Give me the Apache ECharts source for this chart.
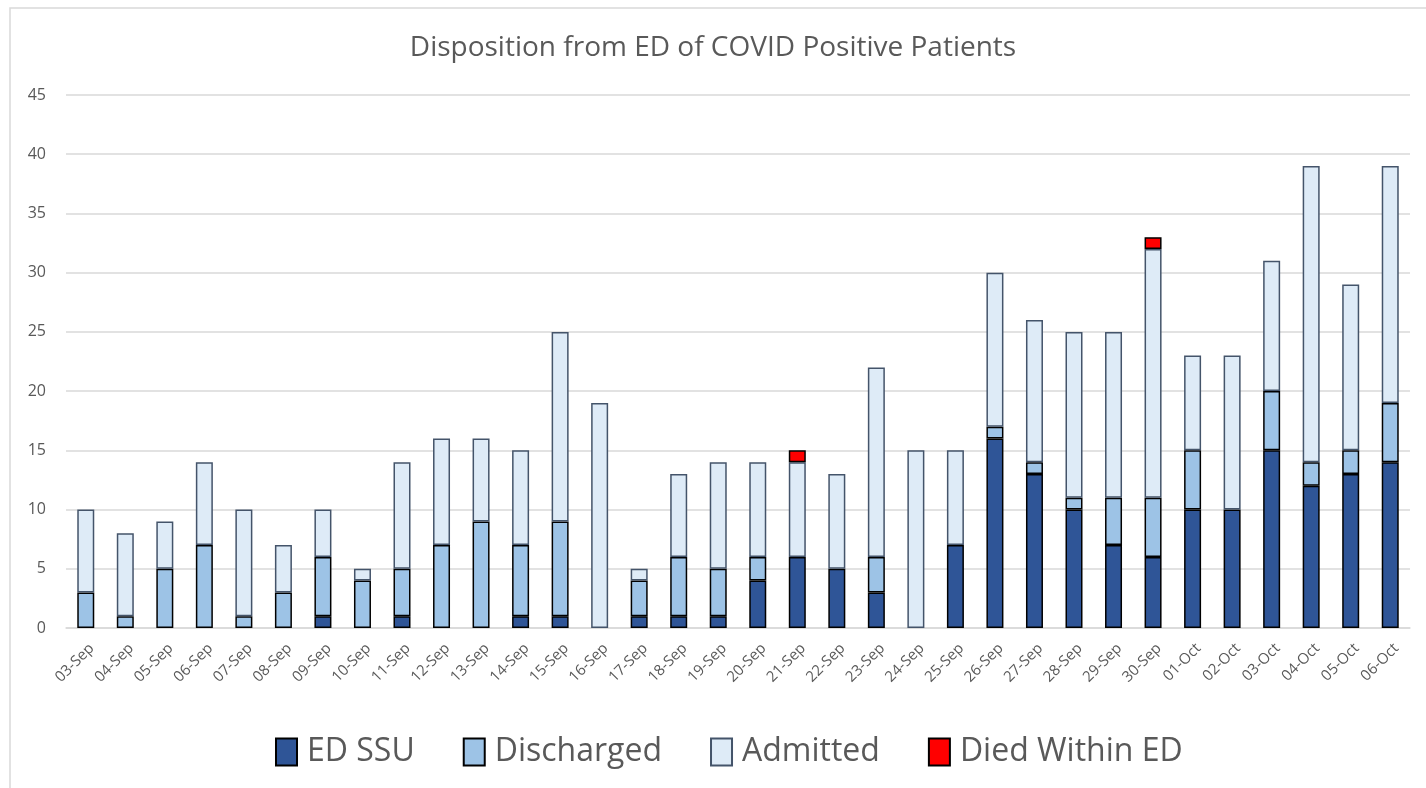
<!DOCTYPE html>
<html>
<head>
<meta charset="utf-8">
<script src="https://cdn.jsdelivr.net/npm/echarts@6/dist/echarts.min.js"></script>
<style>
  html, body {margin: 0; padding: 0; background: #fff;}
  #chart {width: 1426px; height: 788px;}
</style>
</head>
<body>
<div id="chart"></div>
<script>
const categories = ['03-Sep', '04-Sep', '05-Sep', '06-Sep', '07-Sep', '08-Sep', '09-Sep', '10-Sep', '11-Sep',
  '12-Sep', '13-Sep', '14-Sep', '15-Sep', '16-Sep', '17-Sep', '18-Sep', '19-Sep', '20-Sep', '21-Sep',
  '22-Sep', '23-Sep', '24-Sep', '25-Sep', '26-Sep', '27-Sep', '28-Sep', '29-Sep', '30-Sep', '01-Oct',
  '02-Oct', '03-Oct', '04-Oct', '05-Oct', '06-Oct']
const edSsu = [0, 0, 0, 0, 0, 0, 1, 0, 1, 0, 0, 1, 1, 0, 1, 1, 1, 4, 6, 5, 3, 0, 7, 16, 13, 10, 7, 6, 10, 10, 15, 12, 13, 14]
const discharged = [3, 1, 5, 7, 1, 3, 5, 4, 4, 7, 9, 6, 8, 0, 3, 5, 4, 2, 0, 0, 3, 0, 0, 1, 1, 1, 4, 5, 5, 0, 5, 2, 2, 5]
const admitted = [7, 7, 4, 7, 9, 4, 4, 1, 9, 9, 7, 8, 16, 19, 1, 7, 9, 8, 8, 8, 16, 15, 8, 13, 12, 14, 14, 21, 8, 13, 11, 25, 14, 20]
const died = [0, 0, 0, 0, 0, 0, 0, 0, 0, 0, 0, 0, 0, 0, 0, 0, 0, 0, 1, 0, 0, 0, 0, 0, 0, 0, 0, 1, 0, 0, 0, 0, 0, 0]
const yTicks = [0, 45, 5]

const font = '"Open Sans", "Noto Sans", sans-serif'
const textColor = '#595959'

// zero-height segments would still show a border line, so hide them
const clean = arr => arr.map(v => (v === 0 ? null : v))

function makeSeries(name, data, color, border) {
  return {
    name,
    type: 'bar',
    stack: 'total',
    barWidth: 17,
    data: clean(data),
    itemStyle: {color, borderColor: border, borderWidth: 1.5}
  }
}

let chart = echarts.init(document.getElementById('chart'))
chart.setOption({
  animation: false,
  backgroundColor: '#fff',
  textStyle: {fontFamily: font},
  title: {
    text: 'Disposition from ED of COVID Positive Patients',
    left: 'center',
    top: 29,
    textStyle: {fontFamily: font, fontSize: 28, fontWeight: 'normal', color: textColor}
  },
  graphic: [{
    type: 'rect',
    shape: {x: 10, y: 8, width: 1440, height: 800},
    style: {fill: 'none', stroke: '#d9d9d9', lineWidth: 1.5},
    silent: true
  }],
  legend: {
    top: 731,
    left: 270,
    itemWidth: 21,
    itemHeight: 27,
    itemGap: 48,
    icon: 'rect',
    textStyle: {fontFamily: font, fontSize: 32, color: textColor, padding: [0, 0, 0, 5]},
    data: ['ED SSU', 'Discharged', 'Admitted', 'Died Within ED']
  },
  grid: {left: 66, right: 16, top: 95, bottom: 160},
  xAxis: {
    type: 'category',
    data: categories,
    axisLine: {lineStyle: {color: '#d9d9d9', width: 1.5}},
    axisTick: {show: false},
    axisLabel: {
      rotate: 45, fontSize: 15, lineHeight: 17, color: textColor, margin: 12, interval: 0,
      // blank first line nudges the rotated text down-right, like Excel
      formatter: v => '\n' + v
    }
  },
  yAxis: {
    type: 'value',
    min: yTicks[0],
    max: yTicks[1],
    interval: yTicks[2],
    axisLine: {show: false},
    axisTick: {show: false},
    splitLine: {lineStyle: {color: '#d9d9d9', width: 1.5}},
    axisLabel: {fontSize: 16, color: textColor, margin: 20}
  },
  series: [
    makeSeries('ED SSU', edSsu, '#2F5597', '#000000'),
    makeSeries('Discharged', discharged, '#9DC3E6', '#000000'),
    makeSeries('Admitted', admitted, '#DEEBF7', '#44546A'),
    makeSeries('Died Within ED', died, '#FF0000', '#000000')
  ]
})
</script>
</body>
</html>
